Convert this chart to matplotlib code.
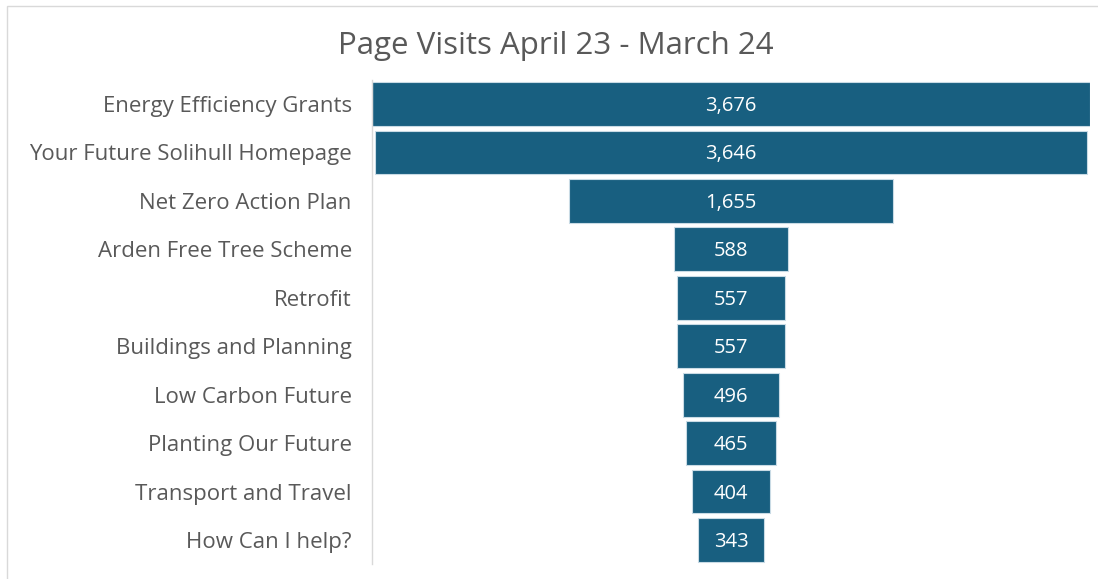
import matplotlib.pyplot as plt
from matplotlib.patches import Rectangle

categories = ["Energy Efficiency Grants", "Your Future Solihull Homepage", "Net Zero Action Plan",
              "Arden Free Tree Scheme", "Retrofit", "Buildings and Planning", "Low Carbon Future",
              "Planting Our Future", "Transport and Travel", "How Can I help?"]
visits = [3676, 3646, 1655, 588, 557, 557, 496, 465, 404, 343]
title = "Page Visits April 23 - March 24"

plt.rcParams['font.family'] = ['Open Sans', 'DejaVu Sans']

W, H = 1098, 579
fig = plt.figure(figsize=(W / 100, H / 100), dpi=100)
ax = fig.add_axes([372 / W, 1 - 564.4 / H, 718 / W, (564.4 - 79.6) / H])

bar_color = "#185F80"
ypos = list(range(len(categories)))
lefts = [-v / 2 for v in visits]
ax.barh(ypos, visits, left=lefts, height=0.9, color=bar_color, edgecolor="#c9dbe5", linewidth=0.8)
for y, v in zip(ypos, visits):
    ax.text(0, y + 0.04, f"{v:,}", ha="center", va="center", color="white", fontsize=14.5)

half = max(visits) / 2
ax.set_xlim(-half, half)
ax.set_ylim(len(categories) - 0.5, -0.5)
ax.set_yticks(ypos)
ax.set_yticklabels(categories, fontsize=16, color="#595959")
ax.tick_params(axis="y", length=0, pad=14.5)
ax.set_xticks([])
for s in ["top", "right", "bottom"]:
    ax.spines[s].set_visible(False)
ax.spines["left"].set_color("#d9d9d9")
ax.spines["left"].set_linewidth(1)

fig.text(556 / W, 1 - 46 / H, title, ha="center", va="center", fontsize=22.5, color="#595959")

fig.patches.append(Rectangle((7 / W, -0.02), 1.05, 1 - 6 / H + 0.02, transform=fig.transFigure,
                             fill=False, edgecolor="#d9d9d9", linewidth=1))

fig.savefig("out.png", dpi=100)
